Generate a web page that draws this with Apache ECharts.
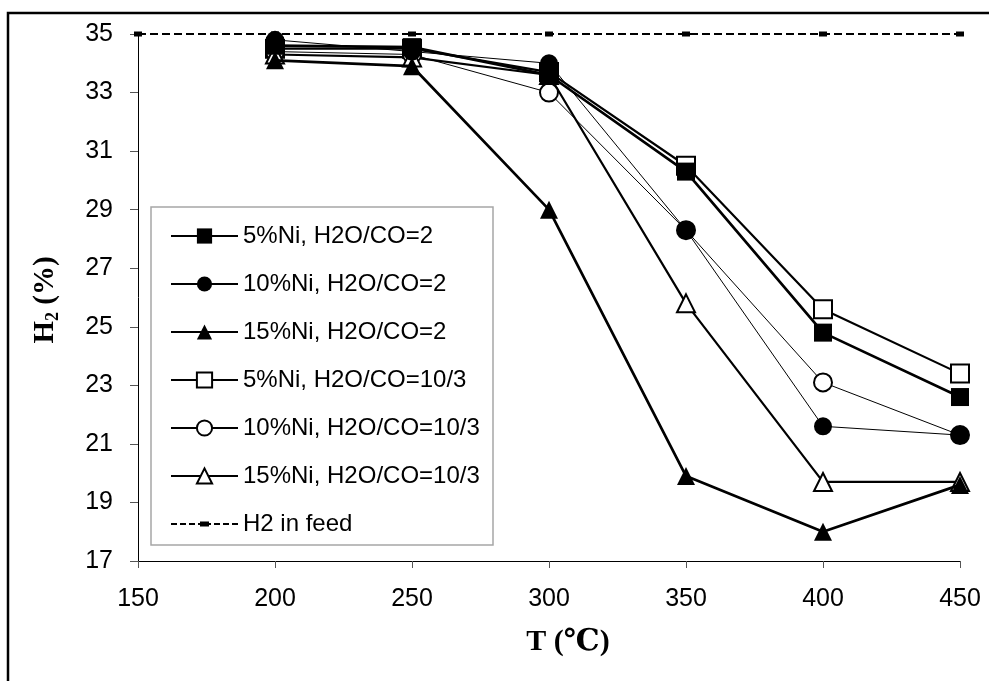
<!DOCTYPE html>
<html>
<head>
<meta charset="utf-8">
<script src="https://cdn.jsdelivr.net/npm/echarts@6/dist/echarts.min.js"></script>
<style>
  html, body { margin: 0; padding: 0; background: #fff; }
  #chart { width: 989px; height: 681px; }
</style>
</head>
<body>
<div id="chart"></div>
<script>
// Reaction temperature (°C) and H2 content (%) of the outlet gas
const temps = [200, 250, 300, 350, 400, 450];
const ni5_r2 = [34.6, 34.55, 33.6, 30.3, 24.8, 22.6];
const ni10_r2 = [34.8, 34.4, 34.0, 28.3, 21.6, 21.3];
const ni15_r2 = [34.1, 33.9, 29.0, 19.9, 18.0, 19.6];
const ni5_r103 = [34.5, 34.5, 33.7, 30.5, 25.6, 23.4];
const ni10_r103 = [34.4, 34.3, 33.0, 28.3, 23.1, 21.3];
const ni15_r103 = [34.3, 34.2, 33.6, 25.8, 19.7, 19.7];
const feedTemps = [150, 200, 250, 300, 350, 400, 450];
const feedH2 = [35, 35, 35, 35, 35, 35, 35];

const seriesNames = [
  '5%Ni, H2O/CO=2', '10%Ni, H2O/CO=2', '15%Ni, H2O/CO=2',
  '5%Ni, H2O/CO=10/3', '10%Ni, H2O/CO=10/3', '15%Ni, H2O/CO=10/3',
  'H2 in feed'
];
const xTicks = [150, 200, 250, 300, 350, 400, 450];
const yTicks = [17, 19, 21, 23, 25, 27, 29, 31, 33, 35];

const pairs = (xs, ys) => xs.map((x, i) => [x, ys[i]]);

function curve(name, values, symbol, filled, width, z) {
  return {
    name: name,
    type: 'line',
    data: pairs(temps, values),
    symbol: symbol,
    symbolSize: 18,
    showAllSymbol: true,
    z: z,
    lineStyle: { color: '#000', width: width },
    itemStyle: filled
      ? { color: '#000', borderColor: '#000', borderWidth: 0 }
      : { color: '#fff', borderColor: '#000', borderWidth: 2 },
    emphasis: { disabled: true }
  };
}

const sans = 'Liberation Sans, Arial, sans-serif';
const serif = 'Liberation Serif, Times New Roman, DejaVu Serif, serif';

const chart = echarts.init(document.getElementById('chart'), null, { renderer: 'canvas' });

chart.setOption({
  animation: false,
  backgroundColor: '#fff',
  grid: { left: 138, right: 29, top: 34, bottom: 120, containLabel: false },
  xAxis: {
    type: 'value',
    min: xTicks[0],
    max: xTicks[xTicks.length - 1],
    interval: 50,
    splitLine: { show: false },
    axisLine: { lineStyle: { color: '#000', width: 1 } },
    axisTick: { length: 7, lineStyle: { color: '#555' } },
    axisLabel: { margin: 26, fontSize: 25, color: '#000', fontFamily: sans }
  },
  yAxis: {
    type: 'value',
    min: yTicks[0],
    max: yTicks[yTicks.length - 1],
    splitLine: { show: false },
    axisLine: { show: true, lineStyle: { color: '#000', width: 1 } },
    axisTick: { show: true, length: 8, customValues: yTicks, lineStyle: { color: '#555' } },
    axisLabel: { margin: 25, fontSize: 25, color: '#000', fontFamily: sans, customValues: yTicks }
  },
  legend: {
    orient: 'vertical',
    left: 165,
    top: 219,
    itemWidth: 67,
    itemHeight: 19,
    itemGap: 24,
    symbolKeepAspect: true,
    selectedMode: false,
    textStyle: { fontSize: 24, color: '#000', fontFamily: sans, lineHeight: 24 },
    data: seriesNames.slice(0, 6).map(n => ({ name: n })).concat([{
      name: seriesNames[6],
      icon: 'path://M0,8.5h6v2h-6z M9,8.5h6v2h-6z M18,8.5h6v2h-6z M27,8.5h2v2h-2z M29,7h9v5h-9z M38,8.5h2v2h-2z M43,8.5h6v2h-6z M52,8.5h6v2h-6z M61,8.5h6v2h-6z'
    }])
  },
  graphic: [
    // frame around the figure
    {
      type: 'polyline', silent: true, z: 100,
      shape: { points: [[8, 681], [8, 13], [989, 13]] },
      style: { stroke: '#000', lineWidth: 2.5, fill: null }
    },
    // legend box
    {
      type: 'rect', silent: true, z: 0,
      shape: { x: 151, y: 207, width: 342, height: 338 },
      style: { stroke: '#a6a6a6', lineWidth: 1.5, fill: '#fff' }
    },
    // y-axis title
    {
      type: 'text', silent: true,
      x: 46, y: 300, rotation: Math.PI / 2,
      style: {
        text: '{b|H}{s|2}{b| (%)}',
        align: 'center', verticalAlign: 'middle',
        rich: {
          b: { fontSize: 29, fontWeight: 'bold', fontFamily: serif, fill: '#000' },
          s: { fontSize: 18, fontWeight: 'bold', fontFamily: serif, fill: '#000', padding: [14, 0, 0, 0] }
        }
      }
    },
    // x-axis title
    {
      type: 'text', silent: true,
      x: 568, y: 642,
      style: {
        text: 'T (℃)',
        align: 'center', verticalAlign: 'middle',
        font: 'bold 30px ' + serif, fill: '#000'
      }
    }
  ],
  series: [
    curve(seriesNames[0], ni5_r2, 'rect', true, 2.7, 4),
    curve(seriesNames[1], ni10_r2, 'circle', true, 1, 4),
    curve(seriesNames[2], ni15_r2, 'triangle', true, 2.7, 4),
    curve(seriesNames[3], ni5_r103, 'rect', false, 2.2, 3),
    curve(seriesNames[4], ni10_r103, 'circle', false, 1, 3),
    curve(seriesNames[5], ni15_r103, 'triangle', false, 2.2, 3),
    {
      name: seriesNames[6],
      type: 'line',
      data: pairs(feedTemps, feedH2),
      symbol: 'rect',
      symbolSize: [8, 5],
      z: 2,
      lineStyle: { color: '#000', width: 2, type: [8, 4] },
      itemStyle: { color: '#000' },
      emphasis: { disabled: true }
    }
  ]
});
</script>
</body>
</html>
